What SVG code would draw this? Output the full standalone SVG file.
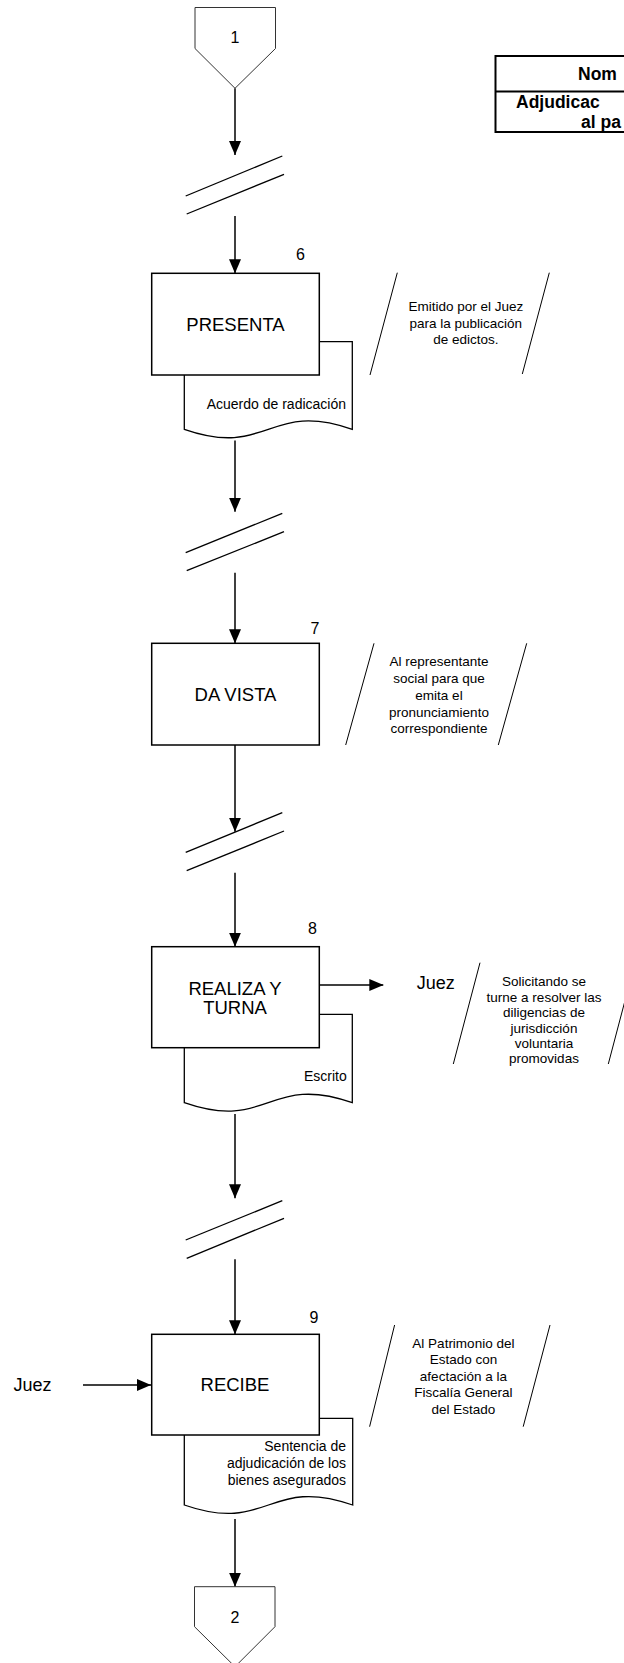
<svg xmlns="http://www.w3.org/2000/svg" width="624" height="1663" viewBox="0 0 624 1663">
<style>
text{font-family:"Liberation Sans",Arial,sans-serif;fill:#000}
.box{fill:#fff;stroke:#000;stroke-width:1.5}
.doc{fill:#fff;stroke:#000;stroke-width:1.3}
.pent{fill:#fff;stroke:#333;stroke-width:1}
.conn{fill:none;stroke:#000;stroke-width:1.5}
.brk{fill:none;stroke:#000;stroke-width:1.3}
.sl{fill:none;stroke:#000;stroke-width:1}
.lbl{font-size:18.5px;text-anchor:middle}
.num{font-size:16px;text-anchor:middle}
.ann{font-size:13.5px;text-anchor:middle}
.dl{font-size:14px;text-anchor:end}
.ttl{font-size:17.5px;font-weight:bold}
</style>
<defs>
<marker id="ah" viewBox="0 0 14 12" refX="14" refY="6" markerWidth="14" markerHeight="12" markerUnits="userSpaceOnUse" orient="auto">
<path d="M0,0 L14,6 L0,12 z" fill="#000"/>
</marker>
</defs>
<rect width="624" height="1663" fill="#fff"/>

<g id="title">
<rect x="495.5" y="56" width="200" height="76" fill="#fff" stroke="#000" stroke-width="2"/>
<line x1="495.5" y1="91.5" x2="700" y2="91.5" stroke="#000" stroke-width="2"/>
<text class="ttl" x="578" y="80">Nom</text>
<text class="ttl" x="516" y="108">Adjudicac</text>
<text class="ttl" x="581" y="128.3">al pa</text>
</g>

<g id="connectors">
<line class="conn" x1="235" y1="88.3" x2="235" y2="155" marker-end="url(#ah)"/>
<line class="conn" x1="235" y1="216" x2="235" y2="273.3" marker-end="url(#ah)"/>
<line class="conn" x1="235" y1="440.5" x2="235" y2="511.7" marker-end="url(#ah)"/>
<line class="conn" x1="235" y1="572.7" x2="235" y2="643.3" marker-end="url(#ah)"/>
<line class="conn" x1="235" y1="745" x2="235" y2="831.7" marker-end="url(#ah)"/>
<line class="conn" x1="235" y1="872.7" x2="235" y2="946.7" marker-end="url(#ah)"/>
<line class="conn" x1="319.3" y1="985" x2="383.3" y2="985" marker-end="url(#ah)"/>
<line class="conn" x1="235" y1="1114" x2="235" y2="1198.3" marker-end="url(#ah)"/>
<line class="conn" x1="235" y1="1259.3" x2="235" y2="1334.3" marker-end="url(#ah)"/>
<line class="conn" x1="83" y1="1385" x2="151" y2="1385" marker-end="url(#ah)"/>
<line class="conn" x1="235" y1="1519" x2="235" y2="1586.7" marker-end="url(#ah)"/>
</g>

<g id="breaks">
<line class="brk" x1="185.7" y1="196" x2="282.3" y2="156"/>
<line class="brk" x1="186.7" y1="214" x2="284" y2="174.3"/>
<line class="brk" x1="185.7" y1="552.7" x2="282.3" y2="513.3"/>
<line class="brk" x1="186.7" y1="570.7" x2="284" y2="531.7"/>
<line class="brk" x1="185.7" y1="852.3" x2="282.3" y2="812.7"/>
<line class="brk" x1="186.7" y1="870.7" x2="284" y2="831"/>
<line class="brk" x1="185.7" y1="1240" x2="282.3" y2="1200.7"/>
<line class="brk" x1="186.7" y1="1258.3" x2="284" y2="1218.3"/>
</g>

<g id="conn1">
<polygon class="pent" points="195,7.5 275.5,7.5 275.5,48.5 235,88.3 195,48.5"/>
<text class="num" x="235" y="43">1</text>
</g>

<g id="step6">
<path class="doc" d="M184.3,341.7 H352.3 V429.3 C268.3,400 268.3,458.6 184.3,429.3 Z"/>
<rect class="box" x="151.7" y="273.3" width="167.6" height="101.7"/>
<text class="lbl" x="235.5" y="330.5">PRESENTA</text>
<text class="num" x="300.5" y="260">6</text>
<text class="dl" x="346" y="409">Acuerdo de radicación</text>
</g>
<g id="note6">
<line class="sl" x1="370" y1="375" x2="397.3" y2="272.7"/>
<line class="sl" x1="522.3" y1="374" x2="549.3" y2="272.7"/>
<text class="ann" x="465.8" y="311">Emitido por el Juez</text>
<text class="ann" x="465.8" y="327.5">para la publicación</text>
<text class="ann" x="465.8" y="344">de edictos.</text>
</g>

<g id="step7">
<rect class="box" x="151.7" y="643.3" width="167.6" height="101.7"/>
<text class="lbl" x="235.5" y="701">DA VISTA</text>
<text class="num" x="315" y="633.5">7</text>
</g>
<g id="note7">
<line class="sl" x1="345.7" y1="745" x2="374" y2="643.3"/>
<line class="sl" x1="498.3" y1="745" x2="526.7" y2="643.3"/>
<text class="ann" x="439" y="666">Al representante</text>
<text class="ann" x="439" y="683">social para que</text>
<text class="ann" x="439" y="700">emita el</text>
<text class="ann" x="439" y="716.5">pronunciamiento</text>
<text class="ann" x="439" y="733">correspondiente</text>
</g>

<g id="step8">
<path class="doc" d="M184.3,1014.3 H352.3 V1102.7 C268.3,1073.4 268.3,1132 184.3,1102.7 Z"/>
<rect class="box" x="151.7" y="946.7" width="167.6" height="101"/>
<text class="lbl" x="235" y="995">REALIZA Y</text>
<text class="lbl" x="235" y="1014.3">TURNA</text>
<text class="num" x="312.5" y="934">8</text>
<text class="dl" x="346.7" y="1080.7">Escrito</text>
</g>
<g id="juez1">
<text x="416.7" y="988.5" style="font-size:18px">Juez</text>
</g>
<g id="note8">
<line class="sl" x1="453.3" y1="1064" x2="480" y2="962.7"/>
<line class="sl" x1="608.3" y1="1064" x2="635" y2="962.7"/>
<text class="ann" x="544" y="986">Solicitando se</text>
<text class="ann" x="544" y="1001.5">turne a resolver las</text>
<text class="ann" x="544" y="1017">diligencias de</text>
<text class="ann" x="544" y="1032.5">jurisdicción</text>
<text class="ann" x="544" y="1048">voluntaria</text>
<text class="ann" x="544" y="1063">promovidas</text>
</g>

<g id="step9">
<path class="doc" d="M184.3,1418.3 H352.7 V1505 C268.5,1475.7 268.5,1534.3 184.3,1505 Z"/>
<rect class="box" x="151.7" y="1334.3" width="167.6" height="100.7"/>
<text class="lbl" x="235" y="1391.3">RECIBE</text>
<text class="num" x="314" y="1323">9</text>
<text class="dl" x="346" y="1451">Sentencia de</text>
<text class="dl" x="346" y="1468">adjudicación de los</text>
<text class="dl" x="346" y="1485">bienes asegurados</text>
</g>
<g id="juez2">
<text x="13.6" y="1391" style="font-size:18px">Juez</text>
</g>
<g id="note9">
<line class="sl" x1="369.6" y1="1426.7" x2="394.6" y2="1325"/>
<line class="sl" x1="523.2" y1="1426.7" x2="550" y2="1325"/>
<text class="ann" x="463.4" y="1347.5">Al Patrimonio del</text>
<text class="ann" x="463.4" y="1364">Estado con</text>
<text class="ann" x="463.4" y="1380.5">afectación a la</text>
<text class="ann" x="463.4" y="1397">Fiscalía General</text>
<text class="ann" x="463.4" y="1413.5">del Estado</text>
</g>

<g id="conn2">
<polygon class="pent" points="194.5,1586.7 275,1586.7 275,1626.7 235,1666.7 194.5,1626.7"/>
<text class="num" x="235" y="1623">2</text>
</g>
</svg>
